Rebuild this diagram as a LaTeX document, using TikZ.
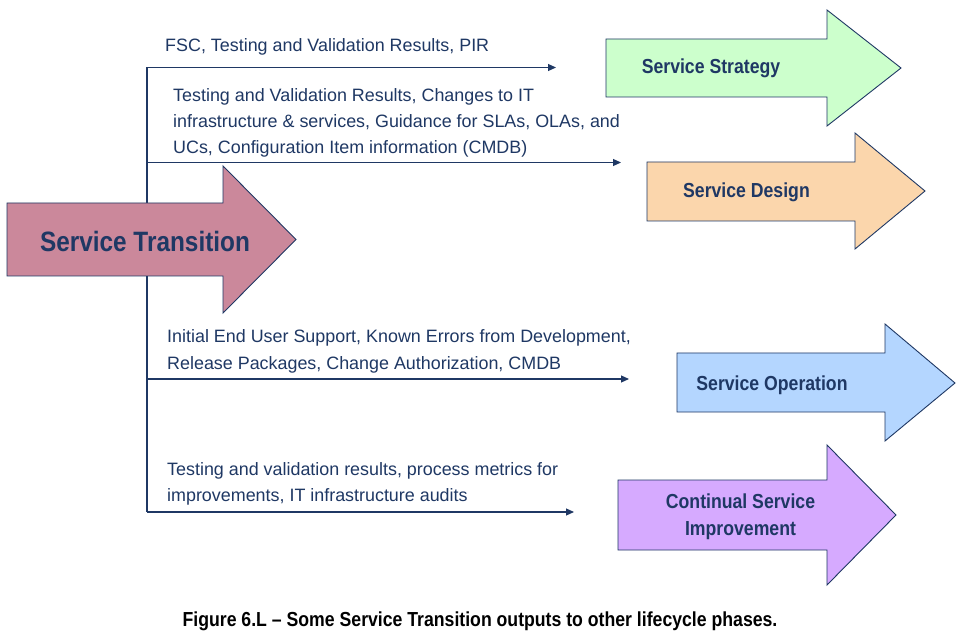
\documentclass[tikz,border=0pt]{standalone}
\usepackage{fontspec}
\setmainfont{Liberation Sans}
\newfontfamily\narrowsans{Liberation Sans}[FakeStretch=0.87,Ligatures=TeX]
\usetikzlibrary{arrows.meta}
\definecolor{navy}{RGB}{31,56,100}
\definecolor{stfill}{RGB}{203,136,155}
\definecolor{stratfill}{RGB}{204,255,204}
\definecolor{designfill}{RGB}{251,214,172}
\definecolor{operfill}{RGB}{180,214,255}
\definecolor{csifill}{RGB}{214,170,255}
\begin{document}
\begin{tikzpicture}[x=1pt,y=-1pt,
  flow/.style={draw=navy, line width=1.1pt},
  conn/.style={draw=navy, line width=1.1pt, -{Triangle[length=8pt,width=7pt]}},
  phase/.style={draw=navy, line width=0.9pt},
  lbl/.style={font=\fontsize{17.9}{26}\selectfont, text=navy, inner sep=0pt, anchor=base west, align=left},
  ptxt/.style={font=\narrowsans\bfseries\fontsize{20.3}{27}\selectfont, text=navy, inner sep=0pt, align=center},
  bigtxt/.style={font=\narrowsans\bfseries\fontsize{28}{32}\selectfont, text=navy, inner sep=0pt}]
\useasboundingbox[fill=white] (0,0) rectangle (964,636);

% connectors
\coordinate (top) at (147,67.5);
\coordinate (bot) at (147,512);
\coordinate (j2) at (147,162.5);
\coordinate (j3) at (147,379);
\coordinate (e1) at (556,67.5);
\coordinate (e2) at (621,162.5);
\coordinate (e3) at (629,379);
\coordinate (e4) at (574,512);
\draw[flow] (top) -- (bot);
\draw[conn] (top) -- (e1);
\draw[conn] (j2) -- (e2);
\draw[conn] (j3) -- (e3);
\draw[conn] (bot) -- (e4);

% Service Transition
\filldraw[phase, fill=stfill] (7,203) -- (223,203) -- (223,166) -- (296,239.5) -- (223,313) -- (223,276) -- (7,276) -- cycle;
\node[bigtxt] (st) at (145,241) {Service Transition};

% Service Strategy
\filldraw[phase, fill=stratfill] (606,39) -- (827,39) -- (827,10) -- (901,68) -- (827,126) -- (827,97) -- (606,97) -- cycle;
\node[ptxt, anchor=base] (ss) at (711,74) {Service Strategy};

% Service Design
\filldraw[phase, fill=designfill] (647,162) -- (855,162) -- (855,133) -- (925,191) -- (855,249) -- (855,221) -- (647,221) -- cycle;
\node[ptxt, anchor=base] (sd) at (746.5,198) {Service Design};

% Service Operation
\filldraw[phase, fill=operfill] (677,353) -- (885,353) -- (885,324) -- (955,383) -- (885,441) -- (885,412) -- (677,412) -- cycle;
\node[ptxt, anchor=base] (so) at (772,390) {Service Operation};

% Continual Service Improvement
\filldraw[phase, fill=csifill] (618,480) -- (827,480) -- (827,445) -- (896,515) -- (827,585) -- (827,550) -- (618,550) -- cycle;
\node[ptxt, anchor=base] (csi) at (740.5,535) {Continual Service\\Improvement};

% labels (base anchor = baseline of last line)
\node[lbl] (l1) at (165,52) {FSC, Testing and Validation Results, PIR};
\node[lbl] (l2) at (173,154) {Testing and Validation Results, Changes to IT\\infrastructure \& services, Guidance for SLAs, OLAs, and\\UCs, Configuration Item information (CMDB)};
\node[lbl] (l3) at (167,369) {Initial End User Support, Known Errors from Development,\\Release Packages, Change Authorization, CMDB};
\node[lbl] (l4) at (167,501) {Testing and validation results, process metrics for\\improvements, IT infrastructure audits};

% caption
\node[font=\narrowsans\bfseries\fontsize{20.3}{24}\selectfont, inner sep=0pt, anchor=base] (cap) at (480,626.5) {Figure 6.L – Some Service Transition outputs to other lifecycle phases.};
\end{tikzpicture}
\end{document}
